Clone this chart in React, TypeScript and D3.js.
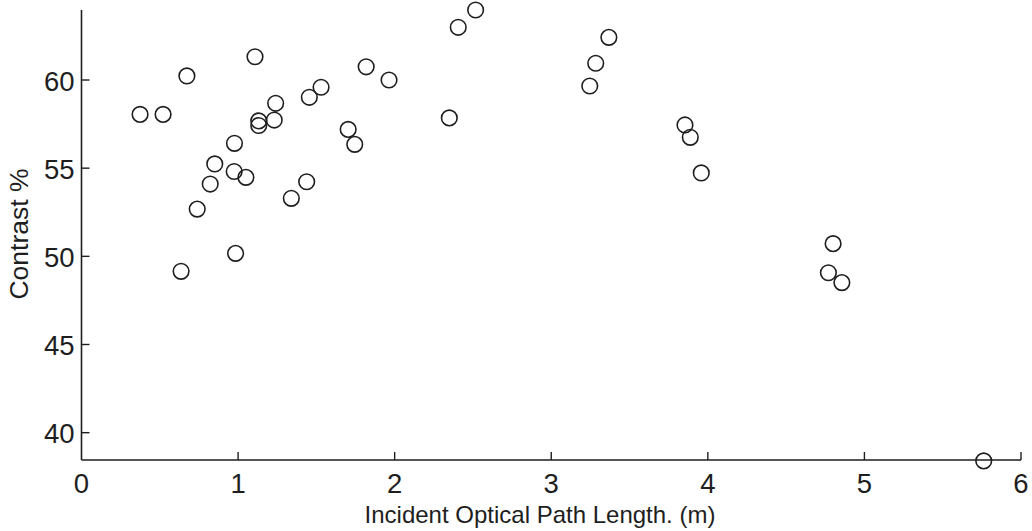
import React from "react";
import * as d3 from "d3";

const pathLength: number[] = [
  0.374, 0.521, 0.673, 1.108, 1.24, 1.132, 1.132, 1.231, 0.977, 0.851,
  0.975, 1.05, 0.822, 0.739, 1.34, 0.984, 0.636, 1.438, 1.455, 1.53,
  1.703, 1.745, 1.964, 1.818, 2.349, 2.406, 2.517, 3.368, 3.284, 3.246,
  3.854, 3.888, 3.958, 4.8, 4.77, 4.856, 5.762,
];
const contrast: number[] = [
  58.05, 58.05, 60.23, 61.32, 58.68, 57.68, 57.42, 57.73, 56.41, 55.24,
  54.81, 54.48, 54.1, 52.68, 53.29, 50.17, 49.15, 54.23, 59.02, 59.59,
  57.2, 56.35, 60.0, 60.75, 57.85, 62.99, 63.97, 62.42, 60.95, 59.66,
  57.45, 56.75, 54.73, 50.72, 49.07, 48.51, 38.4,
];
const xTicks: number[] = [0, 1, 2, 3, 4, 5, 6];
const yTicks: number[] = [40, 45, 50, 55, 60];
const xLabel = "Incident Optical Path Length. (m)";
const yLabel = "Contrast %";

const W = 1032;
const H = 531;
const left = 81.5;
const right = 1021;
const top = 10;
const bottom = 460;

export default function App() {
  const x = d3.scaleLinear().domain([0, 6]).range([left, right]);
  const y = d3.scaleLinear().domain([38.45, 63.97]).range([bottom, top]);
  const ink = "#1e1e1e";
  const font = "'Liberation Sans', Arial, Helvetica, sans-serif";
  const data = pathLength.map((v, i) => ({ x: v, y: contrast[i] }));

  return (
    <svg
      width={W}
      height={H}
      style={{ position: "absolute", left: 0, top: 0, background: "#fff" }}
      fontFamily={font}
    >
      <rect x={0} y={0} width={W} height={H} fill="#fff" />
      <line x1={left} x2={left} y1={top} y2={bottom} stroke={ink} strokeWidth={1.6} />
      <line x1={left} x2={right} y1={bottom} y2={bottom} stroke={ink} strokeWidth={1.6} />
      {yTicks.map((t) => (
        <g key={"y" + t}>
          <line x1={left} x2={left + 8} y1={y(t)} y2={y(t)} stroke={ink} strokeWidth={1.4} />
          <text
            x={left - 7}
            y={y(t) + 10.5}
            textAnchor="end"
            fontSize={27.5}
            fill={ink}
          >
            {t}
          </text>
        </g>
      ))}
      {xTicks.map((t) => (
        <g key={"x" + t}>
          {t > 0 && (
            <line x1={x(t)} x2={x(t)} y1={bottom} y2={bottom - 8} stroke={ink} strokeWidth={1.4} />
          )}
          <text x={x(t)} y={bottom + 33} textAnchor="middle" fontSize={27.5} fill={ink}>
            {t}
          </text>
        </g>
      ))}
      <text x={540} y={523} textAnchor="middle" fontSize={24} fill={ink}>
        {xLabel}
      </text>
      <text
        transform={`translate(28, 234) rotate(-90)`}
        textAnchor="middle"
        fontSize={26.5}
        fill={ink}
      >
        {yLabel}
      </text>
      {data.map((d, i) => (
        <circle
          key={i}
          cx={x(d.x)}
          cy={y(d.y)}
          r={7.8}
          fill="none"
          stroke={ink}
          strokeWidth={1.6}
        />
      ))}
    </svg>
  );
}
